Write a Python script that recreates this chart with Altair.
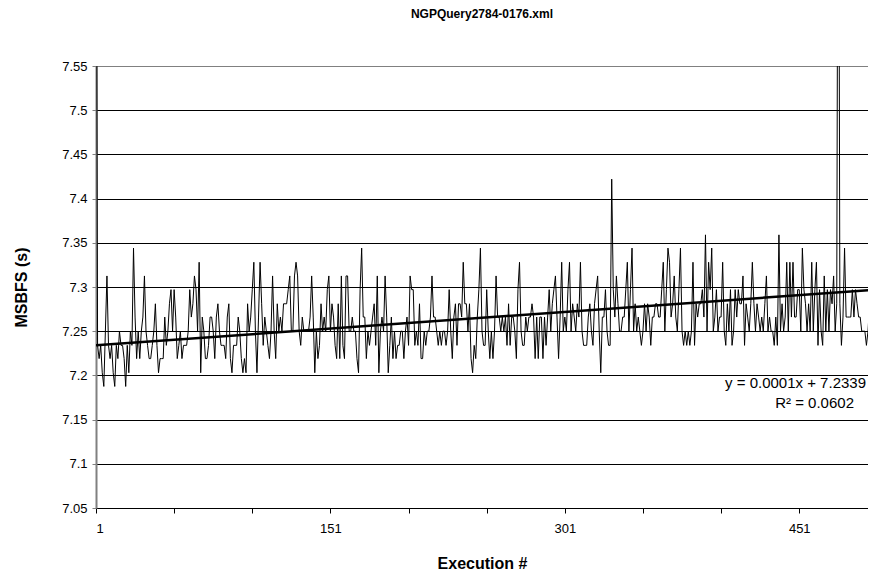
import altair as alt
import pandas as pd

chart_title = "NGPQuery2784-0176.xml"
y_title = "MSBFS (s)"
x_title = "Execution #"
trend_label_1 = "y = 0.0001x + 7.2339"
trend_label_2 = "R\u00b2 = 0.0602"

# MSBFS per execution (seconds); runs 1 and 476 spike above the visible range
msbfs = [
    8.000, 7.234, 7.219, 7.234, 7.203, 7.1875, 7.25, 7.3125, 7.234, 7.219,
    7.234, 7.203, 7.1875, 7.234, 7.219, 7.25, 7.234, 7.234, 7.219, 7.1875,
    7.234, 7.203, 7.25, 7.234, 7.344, 7.266, 7.219, 7.25, 7.219, 7.25,
    7.266, 7.3125, 7.25, 7.234, 7.219, 7.219, 7.234, 7.25, 7.281, 7.234,
    7.203, 7.219, 7.219, 7.219, 7.266, 7.234, 7.25, 7.281, 7.297, 7.25,
    7.297, 7.266, 7.219, 7.234, 7.25, 7.219, 7.234, 7.234, 7.234, 7.25,
    7.297, 7.266, 7.281, 7.3125, 7.297, 7.25, 7.328, 7.203, 7.266, 7.25,
    7.219, 7.219, 7.234, 7.266, 7.266, 7.25, 7.219, 7.266, 7.281, 7.25,
    7.234, 7.234, 7.234, 7.219, 7.266, 7.281, 7.219, 7.203, 7.234, 7.234,
    7.234, 7.266, 7.25, 7.219, 7.203, 7.219, 7.203, 7.281, 7.25, 7.266,
    7.297, 7.328, 7.25, 7.203, 7.266, 7.328, 7.281, 7.234, 7.266, 7.25,
    7.234, 7.219, 7.25, 7.3125, 7.25, 7.219, 7.281, 7.25, 7.266, 7.25,
    7.281, 7.281, 7.281, 7.297, 7.3125, 7.25, 7.25, 7.3125, 7.328, 7.3125,
    7.25, 7.234, 7.266, 7.25, 7.25, 7.25, 7.25, 7.266, 7.3125, 7.266,
    7.203, 7.25, 7.219, 7.234, 7.281, 7.25, 7.266, 7.25, 7.297, 7.3125,
    7.25, 7.281, 7.266, 7.234, 7.219, 7.281, 7.219, 7.3125, 7.234, 7.219,
    7.3125, 7.3125, 7.25, 7.25, 7.266, 7.25, 7.25, 7.219, 7.203, 7.297,
    7.344, 7.266, 7.266, 7.219, 7.25, 7.234, 7.25, 7.266, 7.281, 7.234,
    7.3125, 7.203, 7.25, 7.266, 7.25, 7.3125, 7.266, 7.203, 7.234, 7.266,
    7.219, 7.25, 7.219, 7.234, 7.234, 7.25, 7.25, 7.219, 7.25, 7.266,
    7.234, 7.3125, 7.297, 7.297, 7.234, 7.25, 7.234, 7.281, 7.219, 7.219,
    7.25, 7.234, 7.25, 7.25, 7.266, 7.3125, 7.266, 7.266, 7.25, 7.234,
    7.25, 7.234, 7.25, 7.25, 7.234, 7.25, 7.297, 7.25, 7.219, 7.266,
    7.281, 7.234, 7.281, 7.281, 7.266, 7.328, 7.281, 7.281, 7.25, 7.281,
    7.219, 7.203, 7.234, 7.219, 7.266, 7.297, 7.344, 7.25, 7.234, 7.234,
    7.297, 7.25, 7.219, 7.25, 7.219, 7.25, 7.3125, 7.266, 7.266, 7.25,
    7.266, 7.25, 7.266, 7.234, 7.281, 7.234, 7.266, 7.266, 7.25, 7.219,
    7.297, 7.328, 7.25, 7.234, 7.234, 7.266, 7.25, 7.266, 7.266, 7.281,
    7.266, 7.219, 7.266, 7.219, 7.266, 7.266, 7.219, 7.266, 7.234, 7.266,
    7.297, 7.25, 7.281, 7.297, 7.3125, 7.266, 7.219, 7.266, 7.328, 7.25,
    7.266, 7.25, 7.297, 7.328, 7.25, 7.281, 7.266, 7.25, 7.281, 7.266,
    7.328, 7.25, 7.234, 7.234, 7.234, 7.266, 7.281, 7.25, 7.234, 7.281,
    7.297, 7.3125, 7.25, 7.203, 7.266, 7.266, 7.297, 7.25, 7.234, 7.234,
    7.422, 7.297, 7.266, 7.3125, 7.281, 7.25, 7.25, 7.266, 7.266, 7.297,
    7.328, 7.25, 7.297, 7.344, 7.25, 7.281, 7.25, 7.266, 7.25, 7.234,
    7.25, 7.281, 7.25, 7.281, 7.266, 7.234, 7.266, 7.266, 7.281, 7.281,
    7.266, 7.266, 7.297, 7.328, 7.25, 7.297, 7.344, 7.328, 7.266, 7.281,
    7.3125, 7.266, 7.25, 7.297, 7.344, 7.25, 7.234, 7.25, 7.234, 7.25,
    7.234, 7.25, 7.328, 7.234, 7.281, 7.266, 7.281, 7.281, 7.297, 7.266,
    7.359, 7.25, 7.328, 7.297, 7.344, 7.25, 7.266, 7.297, 7.25, 7.266,
    7.266, 7.328, 7.25, 7.234, 7.281, 7.25, 7.297, 7.234, 7.25, 7.297,
    7.266, 7.297, 7.281, 7.281, 7.3125, 7.234, 7.281, 7.266, 7.25, 7.281,
    7.328, 7.281, 7.25, 7.281, 7.266, 7.25, 7.266, 7.25, 7.281, 7.3125,
    7.25, 7.266, 7.25, 7.25, 7.234, 7.266, 7.234, 7.359, 7.25, 7.281,
    7.25, 7.266, 7.328, 7.25, 7.328, 7.266, 7.328, 7.266, 7.266, 7.297,
    7.297, 7.25, 7.344, 7.297, 7.281, 7.25, 7.281, 7.25, 7.328, 7.25,
    7.297, 7.328, 7.234, 7.297, 7.25, 7.234, 7.3125, 7.25, 7.297, 7.25,
    7.297, 7.281, 7.3125, 7.25, 7.281, 8.000, 7.281, 7.234, 7.266, 7.344,
    7.266, 7.266, 7.266, 7.266, 7.297, 7.266, 7.297, 7.281, 7.266, 7.266,
    7.25, 7.25, 7.25, 7.234, 7.25, 7.281, 7.281, 7.281, 7.281, 7.281,
]
execution = list(range(1, len(msbfs) + 1))

# linear trend line end points (as drawn)
trend_x = [1, 500]
trend_y = [7.234, 7.297]

y_ticks = [7.05, 7.1, 7.15, 7.2, 7.25, 7.3, 7.35, 7.4, 7.45, 7.5, 7.55]
x_ticks = [1, 51, 101, 151, 201, 251, 301, 351, 401, 451]
x_labels = [1, 151, 301, 451]

FONT = "Liberation Sans"

df = pd.DataFrame({"execution": execution, "msbfs": msbfs})
trend_df = pd.DataFrame({"execution": trend_x, "msbfs": trend_y})
label_df = pd.DataFrame({"line1": [trend_label_1], "line2": [trend_label_2]})

x_scale = alt.Scale(domain=[1, 495], nice=False, zero=False)
y_scale = alt.Scale(domain=[7.05, 7.55], nice=False, zero=False)

x_axis = alt.Axis(
    values=x_ticks,
    labelExpr="indexof(" + str(x_labels) + ", datum.value) >= 0 ? datum.value : ''",
    title=x_title, titleFont=FONT, titleFontSize=16, titleFontWeight="bold",
    titleColor="black", titlePadding=20,
    labelFont=FONT, labelFontSize=13, labelColor="black", labelPadding=9,
    domainColor="black", domainWidth=1, tickColor="black", tickSize=5,
    grid=False, labelOverlap=False,
)
y_axis = alt.Axis(
    values=y_ticks, format=".3~g",
    title=y_title, titleFont=FONT, titleFontSize=16, titleFontWeight="bold",
    titleColor="black", titlePadding=32,
    labelFont=FONT, labelFontSize=13, labelColor="black", labelPadding=5,
    domainColor="#808080", domainWidth=2, tickColor="#808080", tickSize=4,
    grid=True, gridWidth=1,
    gridColor={"condition": {"test": "datum.value > 7.54", "value": "#808080"}, "value": "#000000"},
    labelOverlap=False,
)

line = alt.Chart(df).mark_line(color="black", strokeWidth=1, clip=True).encode(
    x=alt.X("execution:Q", scale=x_scale, axis=x_axis),
    y=alt.Y("msbfs:Q", scale=y_scale, axis=y_axis),
)

trend = alt.Chart(trend_df).mark_line(color="black", strokeWidth=2.5, clip=True).encode(
    x=alt.X("execution:Q", scale=x_scale, axis=x_axis),
    y=alt.Y("msbfs:Q", scale=y_scale, axis=y_axis),
)

eq1 = alt.Chart(label_df).mark_text(
    align="right", baseline="middle", font=FONT, fontSize=15, color="black"
).encode(x=alt.value(770), y=alt.value(317), text="line1:N")

eq2 = alt.Chart(label_df).mark_text(
    align="right", baseline="middle", font=FONT, fontSize=15, color="black"
).encode(x=alt.value(758), y=alt.value(337), text="line2:N")

chart = (
    alt.layer(line, trend, eq1, eq2)
    .properties(
        width=772, height=442,
        title=alt.TitleParams(chart_title, font=FONT, fontSize=12, fontWeight="bold",
                              color="black", anchor="middle", offset=39),
        autosize=alt.AutoSizeParams(type="none"),
        padding={"left": 88, "top": 58, "right": 0, "bottom": 63},
    )
    .configure_view(stroke="#808080", strokeWidth=2)
    .configure(background="white")
)

chart.save("out.html", embed_options={"renderer": "svg", "actions": False})
